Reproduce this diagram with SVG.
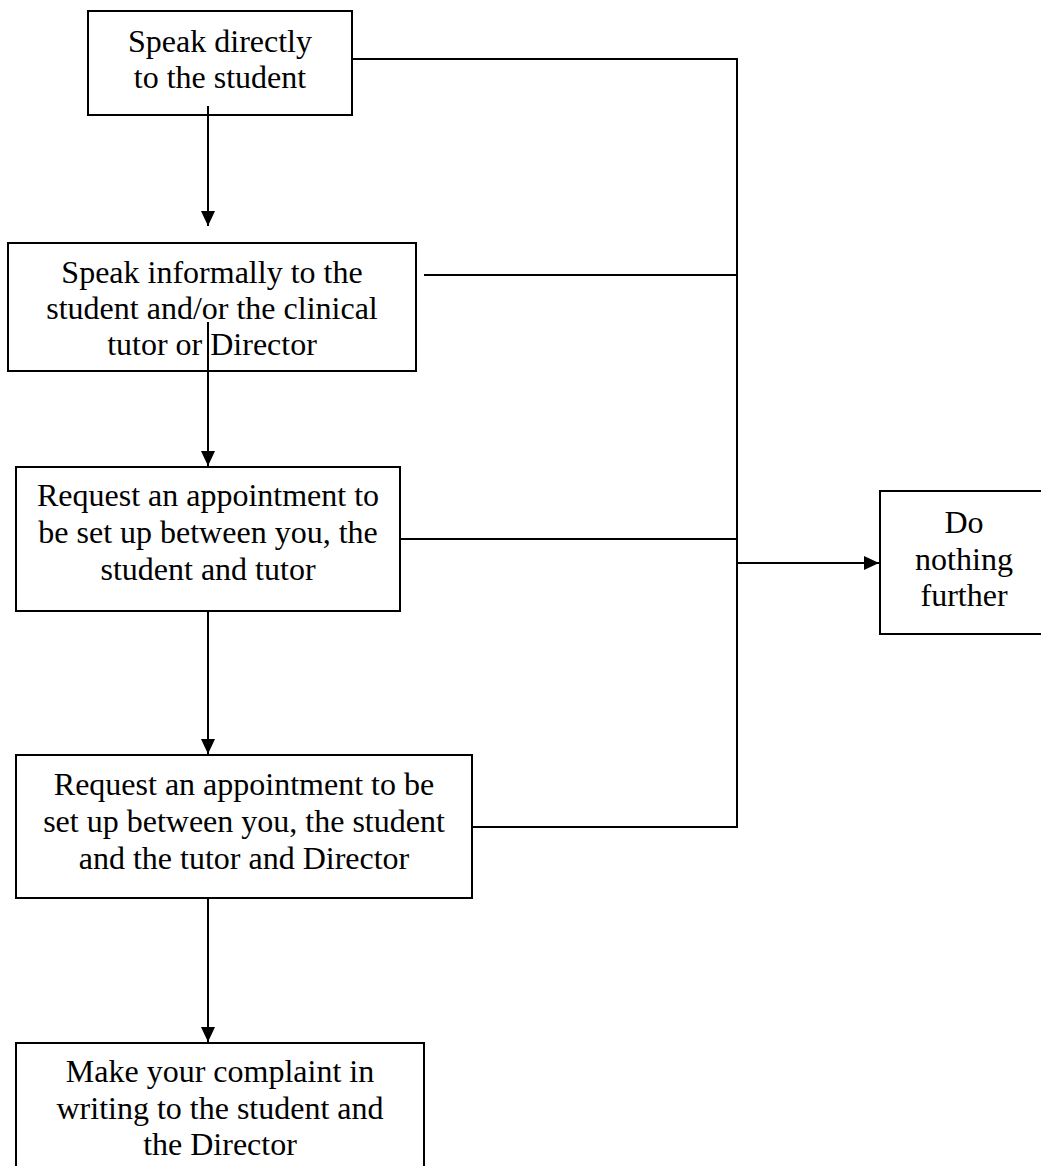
<svg xmlns="http://www.w3.org/2000/svg" width="1041" height="1166" viewBox="0 0 1041 1166">
<style>
.box{fill:#fff;stroke:#000;stroke-width:2}
.t{font-family:"Liberation Serif","Times New Roman",serif;font-size:32px;fill:#000;text-anchor:middle}
.c{fill:none;stroke:#000;stroke-width:2}
</style>
<defs>
<marker id="ah" markerUnits="userSpaceOnUse" markerWidth="16" markerHeight="16" viewBox="0 0 16 16" refX="15" refY="8" orient="auto">
<path d="M0,1 L15,8 L0,15 Z" fill="#000"/>
</marker>
</defs>
<g id="n1"><rect class="box" x="88" y="11" width="264" height="104"/>
<text class="t" x="220" y="52">Speak directly</text><text class="t" x="220" y="88">to the student</text></g>
<g id="n2"><rect class="box" x="8" y="243" width="408" height="128"/>
<text class="t" x="212" y="283">Speak informally to the</text><text class="t" x="212" y="319">student and/or the clinical</text><text class="t" x="212" y="355">tutor or  Director</text></g>
<g id="n3"><rect class="box" x="16" y="467" width="384" height="144"/>
<text class="t" x="208" y="506">Request an appointment to</text><text class="t" x="208" y="543">be set up between you, the</text><text class="t" x="208" y="580">student and tutor</text></g>
<g id="n4"><rect class="box" x="16" y="755" width="456" height="143"/>
<text class="t" x="244" y="795">Request an appointment to be</text><text class="t" x="244" y="832">set up between you, the student</text><text class="t" x="244" y="869">and the tutor and Director</text></g>
<g id="n5"><rect class="box" x="16" y="1043" width="408" height="140"/>
<text class="t" x="220" y="1082">Make your complaint in</text><text class="t" x="220" y="1119">writing to the student and</text><text class="t" x="220" y="1155">the Director</text></g>
<g id="n6"><rect class="box" x="880" y="491" width="170" height="143"/>
<text class="t" x="964" y="533">Do</text><text class="t" x="964" y="570">nothing</text><text class="t" x="964" y="606">further</text></g>
<g id="connectors">
<line class="c" x1="208" y1="106" x2="208" y2="226" marker-end="url(#ah)"/>
<line class="c" x1="208" y1="322" x2="208" y2="466" marker-end="url(#ah)"/>
<line class="c" x1="208" y1="612" x2="208" y2="754" marker-end="url(#ah)"/>
<line class="c" x1="208" y1="899" x2="208" y2="1042" marker-end="url(#ah)"/>
<polyline class="c" points="352,59 737,59 737,827 472,827"/>
<line class="c" x1="424" y1="275" x2="737" y2="275"/>
<line class="c" x1="400" y1="539" x2="737" y2="539"/>
<line class="c" x1="737" y1="563" x2="879" y2="563" marker-end="url(#ah)"/>
</g>
</svg>
